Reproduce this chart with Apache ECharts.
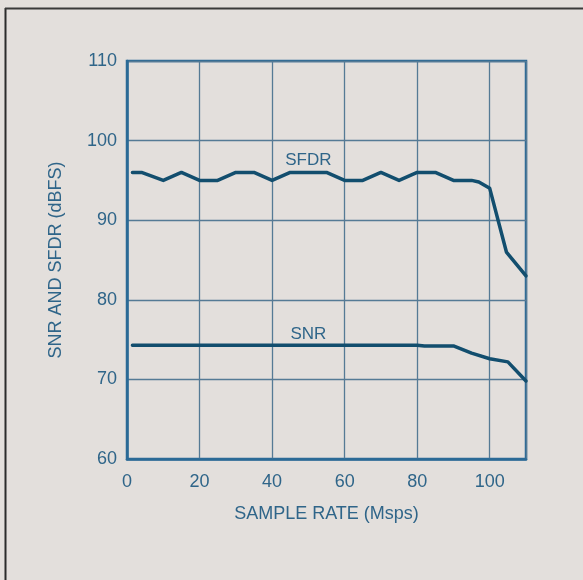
<!DOCTYPE html>
<html>
<head>
<meta charset="utf-8">
<script src="https://cdn.jsdelivr.net/npm/echarts@6/dist/echarts.min.js"></script>
<style>
html,body{margin:0;padding:0;background:#e3dfdc;}
#chart{width:583px;height:580px;}
</style>
</head>
<body>
<div id="chart"></div>
<script>
// Data
var sfdrRate = [1.5, 4, 10, 15, 20, 25, 30, 35, 40, 45, 50, 55, 60, 65, 70, 75, 80, 85, 90, 95, 97, 100, 104.6, 110];
var sfdrValues = [96, 96, 95, 96, 95, 95, 96, 96, 95, 96, 96, 96, 95, 95, 96, 95, 96, 96, 95, 95, 94.8, 94, 86, 83];
var snrRate = [1.5, 80, 82, 90, 95, 100, 105, 110];
var snrValues = [74.3, 74.3, 74.2, 74.2, 73.3, 72.6, 72.2, 69.8];
var xTicks = [0, 20, 40, 60, 80, 100];
var yTicks = [60, 70, 80, 90, 100, 110];
var seriesNames = ['SFDR', 'SNR'];
var labelPos = [[50, 97.5], [50, 75.7]];

function pairs(xs, ys) { return xs.map(function (x, i) { return [x, ys[i]]; }); }

var textColor = '#2f6589';
var lineColor = '#124e6e';
var gridColor = '#557a95';
var font = '"Liberation Sans", Arial, sans-serif';

var chart = echarts.init(document.getElementById('chart'), null, {renderer: 'canvas'});
chart.setOption({
  backgroundColor: '#e3dfdc',
  animation: false,
  graphic: [
    {type: 'line', shape: {x1: 5.5, y1: 8, x2: 5.5, y2: 580}, style: {stroke: '#2b2b2b', lineWidth: 2}},
    {type: 'line', shape: {x1: 5, y1: 8.5, x2: 583, y2: 8.5}, style: {stroke: '#3a3a3a', lineWidth: 2}}
  ],
  grid: {
    left: 127, right: 57, top: 61, bottom: 121,
    show: true, borderColor: '#2a6a96', borderWidth: 2.5, backgroundColor: 'transparent'
  },
  xAxis: {
    type: 'value', min: 0, max: 110, interval: 20,
    name: 'SAMPLE RATE (Msps)', nameLocation: 'middle', nameGap: 46,
    nameTextStyle: {color: textColor, fontSize: 18, fontFamily: font},
    axisLine: {show: true, lineStyle: {color: '#2a6a96', width: 2.5}},
    axisTick: {show: false},
    axisLabel: {color: textColor, fontSize: 18, fontFamily: font, margin: 14, showMaxLabel: false,
      formatter: function (v) { return xTicks.indexOf(v) >= 0 ? String(v) : ''; }},
    splitLine: {show: true, lineStyle: {color: gridColor, width: 1.3}}
  },
  yAxis: {
    type: 'value', min: 60, max: 110, interval: 10,
    name: 'SNR AND SFDR (dBFS)', nameLocation: 'middle', nameGap: 62, nameRotate: 90,
    nameTextStyle: {color: textColor, fontSize: 18, fontFamily: font},
    axisLine: {show: true, lineStyle: {color: '#2a6a96', width: 2.5}},
    axisTick: {show: false},
    axisLabel: {color: textColor, fontSize: 18, fontFamily: font, margin: 10,
      formatter: function (v) { return yTicks.indexOf(v) >= 0 ? String(v) : ''; }},
    splitLine: {show: true, lineStyle: {color: gridColor, width: 1.3}}
  },
  series: [
    {
      name: seriesNames[0], type: 'line', data: pairs(sfdrRate, sfdrValues),
      showSymbol: false, lineStyle: {color: lineColor, width: 3.5, join: 'round', cap: 'round'},
      markPoint: {symbol: 'circle', symbolSize: 0, silent: true,
        label: {show: true, formatter: seriesNames[0], color: textColor, fontSize: 17, fontFamily: font},
        data: [{coord: labelPos[0]}]}
    },
    {
      name: seriesNames[1], type: 'line', data: pairs(snrRate, snrValues),
      showSymbol: false, lineStyle: {color: lineColor, width: 3.5, join: 'round', cap: 'round'},
      markPoint: {symbol: 'circle', symbolSize: 0, silent: true,
        label: {show: true, formatter: seriesNames[1], color: textColor, fontSize: 17, fontFamily: font},
        data: [{coord: labelPos[1]}]}
    }
  ]
});
</script>
</body>
</html>
